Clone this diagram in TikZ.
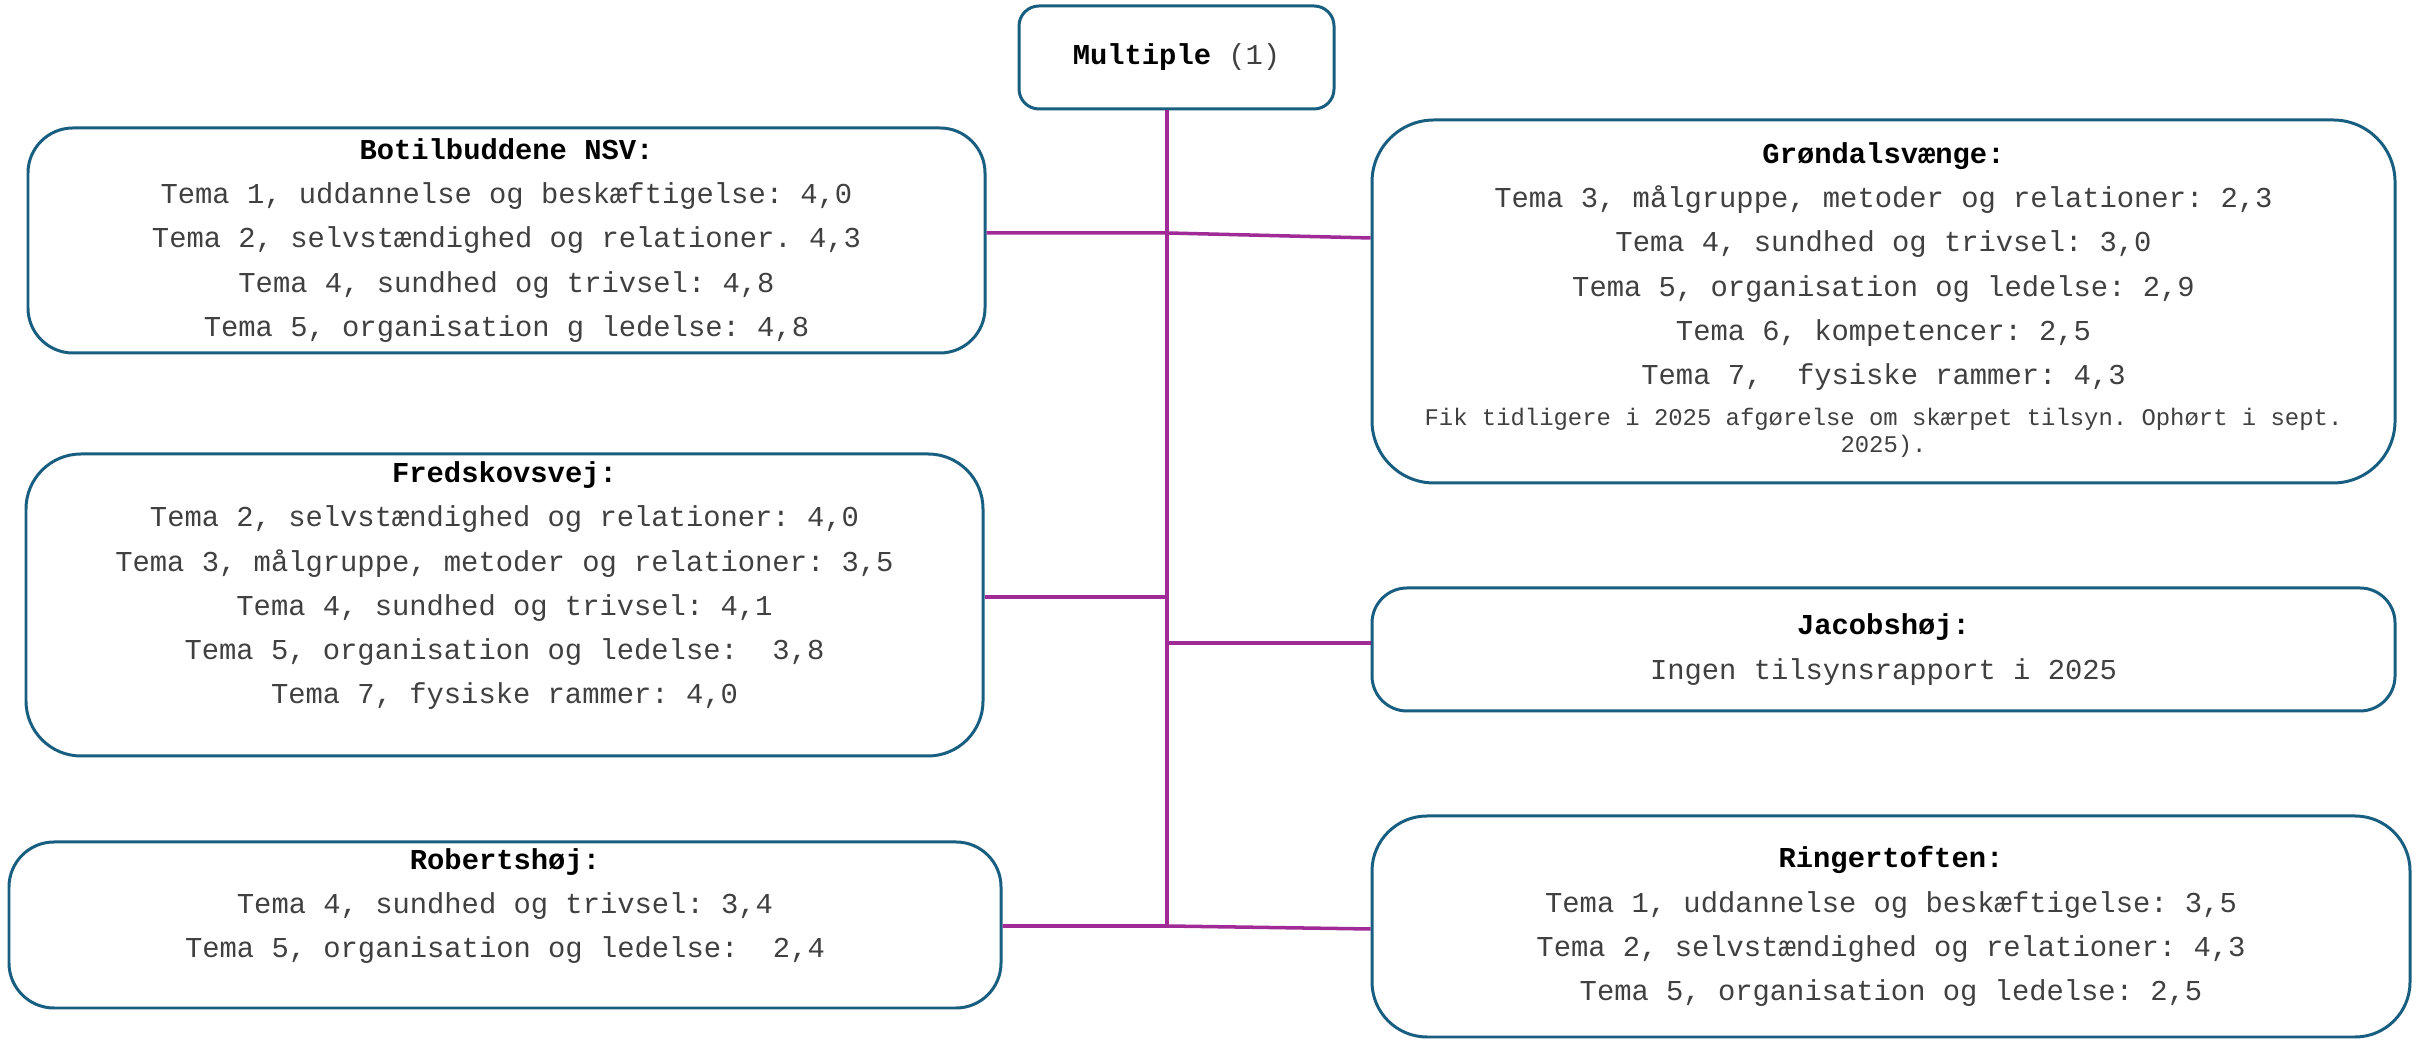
\documentclass[tikz,border=0pt]{standalone}
\usepackage{fontspec}
\setmonofont{Liberation Mono}
\definecolor{unitblue}{RGB}{24,94,128}
\definecolor{linkpurple}{RGB}{160,42,150}
\newcommand{\unitname}[1]{{\color{black}\bfseries #1}}
\newcommand{\notefont}{\fontsize{6.8}{7.7}\selectfont}

\begin{document}
\begin{tikzpicture}[
        unitbox/.style={draw=unitblue, line width=0.85pt, fill=white, align=center,
            inner sep=0pt, text=black!75, font=\ttfamily\fontsize{8.2}{12.6}\selectfont},
        link/.style={draw=linkpurple, line width=1pt}
    ]
    % Canvas with the same margins as the original
    \useasboundingbox (0,0) rectangle (24.2,10.4);

    % Root box
    \node[unitbox, rounded corners=0.2cm, minimum width=3.15cm, minimum height=1.03cm]
        (multiple) at (11.765,9.825) {\unitname{Multiple} (1)};

    % Left column
    \node[unitbox, rounded corners=0.45cm, minimum width=9.57cm, minimum height=2.25cm]
        (botil) at (5.065,7.995) {\unitname{Botilbuddene NSV:}\\
            Tema 1, uddannelse og beskæftigelse: 4,0\\
            Tema 2, selvstændighed og relationer. 4,3\\
            Tema 4, sundhed og trivsel: 4,8\\
            Tema 5, organisation g ledelse: 4,8};
    \node[unitbox, rounded corners=0.55cm, minimum width=9.57cm, minimum height=3.02cm]
        (fred) at (5.045,4.35) {\unitname{Fredskovsvej:}\\
            Tema 2, selvstændighed og relationer: 4,0\\
            Tema 3, målgruppe, metoder og relationer: 3,5\\
            Tema 4, sundhed og trivsel: 4,1\\
            Tema 5, organisation og ledelse:~ 3,8\\
            Tema 7, fysiske rammer: 4,0\\ ~};
    \node[unitbox, rounded corners=0.45cm, minimum width=9.92cm, minimum height=1.66cm]
        (robert) at (5.05,1.15) {\unitname{Robertshøj:}\\
            Tema 4, sundhed og trivsel: 3,4\\
            Tema 5, organisation og ledelse:~ 2,4\\ ~};

    % Right column
    \node[unitbox, rounded corners=0.62cm, minimum width=10.23cm, minimum height=3.63cm]
        (grond) at (18.835,7.385) {\unitname{Grøndalsvænge:}\\
            Tema 3, målgruppe, metoder og relationer: 2,3\\
            Tema 4, sundhed og trivsel: 3,0\\
            Tema 5, organisation og ledelse: 2,9\\
            Tema 6, kompetencer: 2,5\\
            Tema 7,~ fysiske rammer: 4,3\\[-1pt]
            {\notefont\begin{tabular}[t]{@{}c@{}}Fik tidligere i 2025 afgørelse om skærpet tilsyn. Ophørt i sept.\\ 2025).\end{tabular}}};
    \node[unitbox, rounded corners=0.35cm, minimum width=10.23cm, minimum height=1.23cm]
        (jacob) at (18.835,3.905) {\unitname{Jacobshøj:}\\
            Ingen tilsynsrapport i 2025};
    \node[unitbox, rounded corners=0.55cm, minimum width=10.38cm, minimum height=2.21cm]
        (ringer) at (18.91,1.135) {\unitname{Ringertoften:}\\
            Tema 1, uddannelse og beskæftigelse: 3,5\\
            Tema 2, selvstændighed og relationer: 4,3\\
            Tema 5, organisation og ledelse: 2,5};

    % Bottom of the trunk
    \coordinate (hub) at (11.67,1.14);

    % Connectors
    \draw[link] (multiple.south -| hub) -- (hub);
    \draw[link] ([yshift=0.075cm]botil.east) -- ([yshift=0.075cm]botil.east -| hub)
        -- ([yshift=0.635cm]grond.west);
    \draw[link] ([yshift=0.08cm]fred.east) -- ([yshift=0.08cm]fred.east -| hub);
    \draw[link] ([yshift=0.065cm]jacob.west -| hub) -- ([yshift=0.065cm]jacob.west);
    \draw[link] (robert.east |- hub) -- (hub) -- ([yshift=-0.025cm]ringer.west);
\end{tikzpicture}
\end{document}
